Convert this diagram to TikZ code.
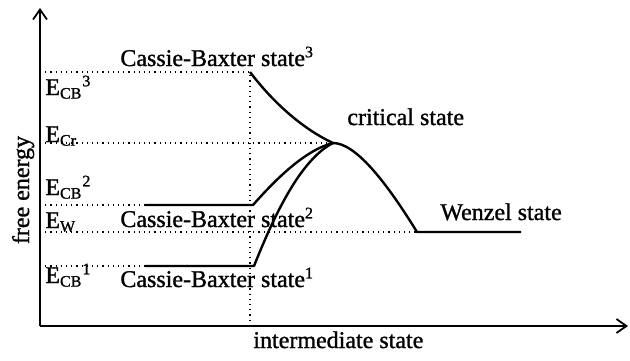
\documentclass[tikz,border=0pt]{standalone}
\usepackage{fontspec}
\setmainfont{Liberation Serif}[FakeBold=1.2]
\usetikzlibrary{arrows.meta, positioning, calc}

\begin{document}
\begin{tikzpicture}[
        x=0.5pt, y=-0.5pt,
        axis/.style={-{Straight Barb[length=5pt, width=7pt]}, line width=0.9pt},
        curve/.style={line width=1.2pt, line join=round},
        guide/.style={dotted, line width=0.6pt},
        lbl/.style={anchor=base west, inner sep=0pt, font=\fontsize{12}{14}\selectfont},
        level/.style={anchor=base west, inner sep=0pt, font=\fontsize{12}{14}\selectfont}
    ]
    \useasboundingbox (0,0) rectangle (630,360);
    % axes
    \coordinate (o) at (40,326);
    \coordinate (ytip) at (40,8);
    \coordinate (xtip) at (628,326);
    \draw[axis] (o) -- (ytip);
    \draw[axis] (o) -- (xtip);
    % energy levels
    \coordinate (cb3) at (250,72);
    \coordinate (cr) at (333,143);
    \coordinate (cb2a) at (145,205);
    \coordinate (cb2b) at (253,205);
    \coordinate (cb1a) at (145,266);
    \coordinate (cb1b) at (254,266);
    \coordinate (wa) at (417,232);
    \coordinate (wb) at (521,232);
    \coordinate (mid) at (250,326);
    % guide lines
    \draw[guide] (o |- cb3) -- (cb3) -- (mid);
    \draw[guide] (o |- cr) -- (cr);
    \draw[guide] (o |- cb2a) -- (cb2a);
    \draw[guide] (o |- wa) -- (wa);
    \draw[guide] (o |- cb1a) -- (cb1a);
    % paths
    \draw[curve] (cb3) .. controls (275,105) and (305,130) .. (cr);
    \draw[curve] (cb2a) -- (cb2b) .. controls (275,180) and (305,150) .. (cr);
    \draw[curve] (cb1a) -- (cb1b) .. controls (274,216) and (300,160) .. (cr);
    \draw[curve] (cr) .. controls (355,143) and (385,180) .. (wa) -- (wb);
    % state labels
    \node[lbl] (tcb3) at (120,66) {Cassie-Baxter state\textsuperscript{3}};
    \node[lbl] (tcr) at (347,125) {critical state};
    \node[lbl] (tcb2) at (120,227) {Cassie-Baxter state\textsuperscript{2}};
    \node[lbl] (tw) at (440,220) {Wenzel state};
    \node[lbl] (tcb1) at (120,287) {Cassie-Baxter state\textsuperscript{1}};
    \node[lbl] (tx) at (253,348) {intermediate state};
    \node[lbl, anchor=base, rotate=90] (ty) at (29,190) {free energy};
    % level labels
    \node[level] (ecb3) at (45,95) {E\textsubscript{CB}\textsuperscript{3}};
    \node[level] (ecr) at (45,142) {E\textsubscript{Cr}};
    \node[level] (ecb2) at (45,195) {E\textsubscript{CB}\textsuperscript{2}};
    \node[level] (ew) at (45,228) {E\textsubscript{W}};
    \node[level] (ecb1) at (45,283) {E\textsubscript{CB}\textsuperscript{1}};
\end{tikzpicture}
\end{document}
